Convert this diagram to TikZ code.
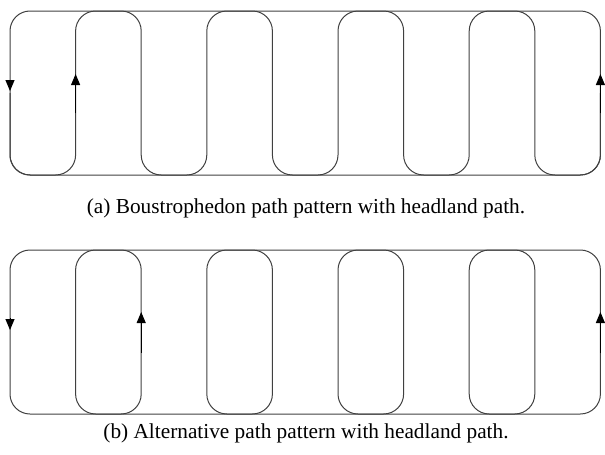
\documentclass[tikz,border=0pt]{standalone}
\usepackage{fontspec}
\setmainfont{Liberation Serif}
\usetikzlibrary{arrows.meta}
\begin{document}
\begin{tikzpicture}[x=1pt,y=-1pt,
    track/.style={draw=black!75,line width=1pt,rounded corners=20pt},
    dirarrow/.style={black,line width=1pt,-{Triangle[length=11pt,width=9pt]}},
    caption/.style={font=\fontsize{21.3}{25}\selectfont}]
    \useasboundingbox (0,0) rectangle (605,455);
    % (a) boustrophedon with headland
    \draw[track] (10,11) rectangle (600.4,175);
    \draw[track] (10,93) -- (10,175)
        \foreach \k in {1,3,5,7} {
            -- ({10+65.6*\k},175) -- ({10+65.6*\k},11)
            -- ({10+65.6*(\k+1)},11) -- ({10+65.6*(\k+1)},175)}
        -- (600.4,175) -- (600.4,93);
    \draw[dirarrow] (10,80) -- (10,91);
    \draw[dirarrow] (75.6,113) -- (75.6,74);
    \draw[dirarrow] (600.4,113) -- (600.4,74);
    \node[caption] (capa) at (306,208) {(a) Boustrophedon path pattern with headland path.};
    % (b) alternative pattern with headland
    \draw[track] (10,250) rectangle (600.4,414);
    \foreach \k in {1,3,5,7}
        \draw[track] ({10+65.6*\k},250) rectangle ({10+65.6*(\k+1)},414);
    \draw[dirarrow] (10,318) -- (10,330);
    \draw[dirarrow] (141.2,353) -- (141.2,312);
    \draw[dirarrow] (600.4,353) -- (600.4,312);
    \node[caption] (capb) at (306,433) {(b) Alternative path pattern with headland path.};
\end{tikzpicture}
\end{document}
